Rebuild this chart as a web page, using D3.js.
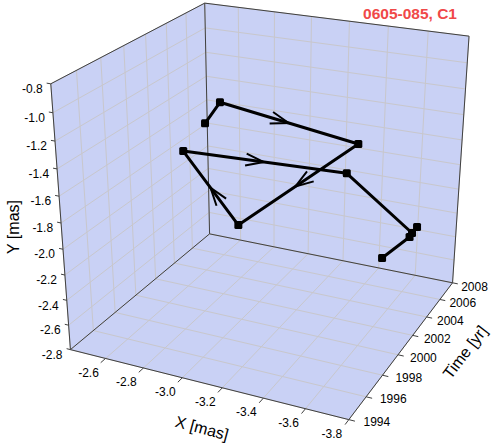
<!DOCTYPE html>
<html><head><meta charset="utf-8">
<script src="https://cdn.jsdelivr.net/npm/d3@7"></script>
<style>body{margin:0;background:#fff}svg{display:block}text{font-family:"Liberation Sans",Arial,sans-serif}</style>
</head><body><svg id="c" width="491" height="443"></svg>
<script>
const times = [1995.57, 1996.82, 1997.93, 1999.07, 2000.20, 2001.48, 2002.90, 2004.20, 2005.47, 2006.84];
const xVals = [-3.059, -3.066, -3.653, -3.034, -2.694, -3.465, -3.741, -3.721, -3.644, -3.458];
const yVals = [-1.000, -0.917, -1.121, -1.955, -1.541, -1.582, -2.052, -2.095, -2.283, -2.613];
const xTicks = [-2.6,-2.8,-3.0,-3.2,-3.4,-3.6,-3.8];
const yTicks = [-0.8,-1.0,-1.2,-1.4,-1.6,-1.8,-2.0,-2.2,-2.4,-2.6,-2.8];
const tTicks = [1994,1996,1998,2000,2002,2004,2006,2008];
const arrowSegments = [1,2,3,4];
const title = "0605-085, C1";

// screen calibration of the 3D box (unit-cube corner -> pixel), used to fit a perspective camera
const boxCorners = [[0,0,0,71,350],[1,0,0,348,420],[1,1,0,453,282],[0,1,0,209.3,234],[0,0,1,51,83],[0,1,1,204.3,3.3],[1,1,1,469.3,36.7]];
function solve(A,b){const n=b.length;A=A.map((r,i)=>r.concat([b[i]]));
 for(let i=0;i<n;i++){let m=i;for(let k=i+1;k<n;k++)if(Math.abs(A[k][i])>Math.abs(A[m][i]))m=k;[A[i],A[m]]=[A[m],A[i]];
  for(let k=i+1;k<n;k++){const f=A[k][i]/A[i][i];for(let j=i;j<=n;j++)A[k][j]-=f*A[i][j];}}
 const x=new Array(n).fill(0);for(let i=n-1;i>=0;i--){let s=A[i][n];for(let j=i+1;j<n;j++)s-=A[i][j]*x[j];x[i]=s/A[i][i];}return x;}
const rows=[],rhs=[];
boxCorners.forEach(([X,Y,Z,x,y])=>{rows.push([X,Y,Z,1,0,0,0,0,-x*X,-x*Y,-x*Z]);rhs.push(x);rows.push([0,0,0,0,X,Y,Z,1,-y*X,-y*Y,-y*Z]);rhs.push(y);});
const AtA=[],Atb=[];for(let i=0;i<11;i++){AtA.push([]);let s=0;for(let r=0;r<rows.length;r++)s+=rows[r][i]*rhs[r];Atb.push(s);for(let j=0;j<11;j++){let t=0;for(let r=0;r<rows.length;r++)t+=rows[r][i]*rows[r][j];AtA[i].push(t);}}
const p=solve(AtA,Atb);
function proj(u,v,w){const d=p[8]*u+p[9]*v+p[10]*w+1;return[(p[0]*u+p[1]*v+p[2]*w+p[3])/d,(p[4]*u+p[5]*v+p[6]*w+p[7])/d];}

const xs=d3.scaleLinear().domain([-2.41,-3.8]).range([0,1]);
const ts=d3.scaleLinear().domain([1994,2008]).range([0,1]);
const ys=d3.scaleLinear().domain([-2.8,-0.8]).range([0,1]);

const svg=d3.select("#c");
const line=d3.line();
const pane="#c9d1f5",grid="#c8c7cc",edge="#404040";
function poly(pts){return line(pts.map(q=>proj(...q)))+"Z";}
svg.append("path").attr("d",poly([[0,0,0],[0,1,0],[0,1,1],[0,0,1]])).attr("fill",pane);
svg.append("path").attr("d",poly([[0,1,0],[1,1,0],[1,1,1],[0,1,1]])).attr("fill",pane);
svg.append("path").attr("d",poly([[0,0,0],[1,0,0],[1,1,0],[0,1,0]])).attr("fill",pane);
const gl=svg.append("g").attr("stroke",grid).attr("stroke-width",1).attr("fill","none");
function seg(g,a,b){g.append("path").attr("d",line([proj(...a),proj(...b)]));}
xTicks.forEach(t=>{const u=xs(t);seg(gl,[u,1,0],[u,1,1]);seg(gl,[u,0,0],[u,1,0]);});
tTicks.forEach(t=>{const v=ts(t);seg(gl,[0,v,0],[0,v,1]);seg(gl,[0,v,0],[1,v,0]);});
yTicks.forEach(t=>{const w=ys(t);seg(gl,[0,0,w],[0,1,w]);seg(gl,[0,1,w],[1,1,w]);});
const el=svg.append("g").attr("stroke",edge).attr("stroke-width",1).attr("fill","none");
[[[0,0,0],[0,0,1]],[[0,0,1],[0,1,1]],[[0,1,1],[1,1,1]],[[1,1,1],[1,1,0]],[[0,1,0],[0,1,1]],[[0,0,0],[0,1,0]],[[0,1,0],[1,1,0]],[[0,0,0],[1,0,0]],[[1,0,0],[1,1,0]]].forEach(e=>seg(el,e[0],e[1]));
const tk=svg.append("g").attr("stroke",edge).attr("stroke-width",1);
const lab=svg.append("g").attr("font-size",12).attr("fill","#000");
xTicks.forEach(t=>{const u=xs(t);seg(tk,[u,0,0],[u,-0.03,0]);const q=proj(u,0,0);lab.append("text").attr("x",q[0]-17).attr("y",q[1]+14).attr("dy","0.35em").attr("text-anchor","middle").text(t.toFixed(1));});
tTicks.forEach(t=>{const v=ts(t);seg(tk,[1,v,0],[1.02,v,0]);const q=proj(1,v,0);lab.append("text").attr("x",q[0]+28-6*v).attr("y",q[1]+2+2*v).attr("dy","0.35em").attr("text-anchor","middle").text(t);});
yTicks.forEach(t=>{const w=ys(t);seg(tk,[0,0,w],[-0.015,0,w]);const q=proj(0,0,w);lab.append("text").attr("x",q[0]-8).attr("y",q[1]+5).attr("dy","0.35em").attr("text-anchor","end").text(t.toFixed(1));});
svg.append("text").attr("transform","translate(202,428) rotate(15)").attr("text-anchor","middle").attr("dy","0.35em").attr("font-size",16).text("X [mas]");
svg.append("text").attr("transform","translate(465,352) rotate(-52.7)").attr("text-anchor","middle").attr("dy","0.35em").attr("font-size",16).text("Time [yr]");
svg.append("text").attr("transform","translate(13,227) rotate(-90)").attr("text-anchor","middle").attr("dy","0.35em").attr("font-size",16).text("Y [mas]");
svg.append("text").attr("x",410).attr("y",19).attr("text-anchor","middle").attr("font-size",15.5).attr("font-weight","bold").attr("fill","#f04848").text(title);

const D=times.map((t,i)=>[xs(xVals[i]),ts(t),ys(yVals[i])]);
const P=D.map(d=>proj(...d));
svg.append("path").attr("d",line(P)).attr("fill","none").attr("stroke","#000").attr("stroke-width",3).attr("stroke-linejoin","round");
const ag=svg.append("g").attr("stroke","#000").attr("stroke-width",2).attr("fill","none");
arrowSegments.forEach(i=>{const a=P[i],b=P[i+1];const m=proj((D[i][0]+D[i+1][0])/2,(D[i][1]+D[i+1][1])/2,(D[i][2]+D[i+1][2])/2);const ang=Math.atan2(a[1]-b[1],a[0]-b[0]);const L=19,h=0.32;
 ag.append("path").attr("d",line([[m[0]+L*Math.cos(ang+h),m[1]+L*Math.sin(ang+h)],m,[m[0]+L*Math.cos(ang-h),m[1]+L*Math.sin(ang-h)]]));});
svg.append("g").selectAll("rect").data(P).join("rect").attr("x",d=>d[0]-4).attr("y",d=>d[1]-4).attr("width",8).attr("height",8).attr("rx",1.5).attr("fill","#000");
</script></body></html>
